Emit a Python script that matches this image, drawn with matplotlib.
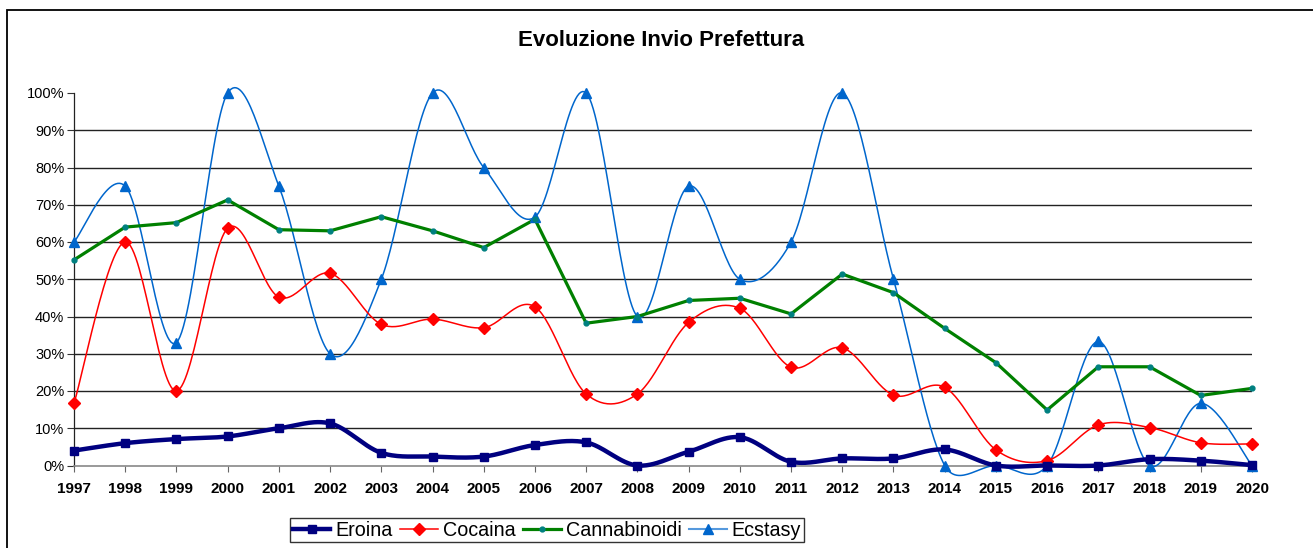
import matplotlib.pyplot as plt
import numpy as np
from matplotlib.lines import Line2D
from matplotlib.patches import Rectangle
from matplotlib.ticker import FuncFormatter

plt.rcParams['font.family'] = ['Liberation Sans', 'DejaVu Sans']

years = np.arange(1997, 2021)

eroina = [4.0, 6.0, 7.1, 7.8, 10.0, 11.3, 3.4, 2.4, 2.4, 5.5, 6.2, 0.0,
          3.7, 7.6, 1.0, 1.9, 1.9, 4.3, 0.0, 0.0, 0.0, 1.7, 1.3, 0.1]
cocaina = [16.7, 60.0, 20.0, 63.7, 45.2, 51.6, 37.9, 39.3, 37.0, 42.6, 19.2, 19.2,
           38.4, 42.2, 26.4, 31.6, 18.9, 21.0, 4.2, 1.3, 10.9, 10.2, 6.1, 5.8]
cannabinoidi = [55.2, 64.0, 65.2, 71.3, 63.3, 63.0, 66.8, 63.0, 58.5, 66.1, 38.2, 40.0,
                44.3, 44.9, 40.7, 51.4, 46.4, 36.8, 27.6, 14.9, 26.5, 26.5, 18.8, 20.7]
ecstasy = [60.0, 75.0, 33.0, 100.0, 75.0, 30.0, 50.0, 100.0, 80.0, 66.7, 100.0, 40.0,
           75.0, 50.0, 60.0, 100.0, 50.0, 0.0, 0.0, 0.0, 33.3, 0.0, 16.7, 0.0]

# pixel size of one year / of 100% on the axes, used so the smoothing works like the spreadsheet
PX_YEAR, PX_FULL = 51.26, 372.5


def smooth(x, y, n=30):
    # bezier "smoothed line": tension 1/6, control arms capped at half the segment
    x = np.asarray(x, float) * PX_YEAR
    y = np.asarray(y, float) / 100 * PX_FULL
    pts = np.column_stack([x, y])
    pts = np.vstack([pts[:1], pts, pts[-1:]])
    t = np.linspace(0, 1, n)[:, None]
    out = []
    for i in range(1, len(pts) - 2):
        p0, p1, p2, p3 = pts[i - 1], pts[i], pts[i + 1], pts[i + 2]
        d12 = np.hypot(*(p2 - p1))
        d02 = np.hypot(*(p2 - p0))
        d13 = np.hypot(*(p3 - p1))
        f1 = 1 / 6 if d02 / 6 < d12 / 2 else d12 / 2 / d02
        f2 = 1 / 6 if d13 / 6 < d12 / 2 else d12 / 2 / d13
        c1 = p1 + f1 * (p2 - p0)
        c2 = p2 - f2 * (p3 - p1)
        b = (1 - t) ** 3 * p1 + 3 * (1 - t) ** 2 * t * c1 + 3 * (1 - t) * t ** 2 * c2 + t ** 3 * p2
        out.append(b)
    b = np.vstack(out)
    return b[:, 0] / PX_YEAR, b[:, 1] / PX_FULL


fig = plt.figure(figsize=(13.13, 5.48), dpi=100)
ax = fig.add_axes([74 / 1313, 1 - 465.5 / 548, (1252 - 74) / 1313, (465.5 - 93) / 548])

for val in np.arange(0.1, 0.95, 0.1):
    ax.axhline(val, color='#222222', lw=1.0, zorder=1)

c_ero, c_coc, c_can, c_ecs = '#000080', '#FF0000', '#008000', '#0066CC'

sx, sy = smooth(years, ecstasy)
ax.plot(sx, sy, color=c_ecs, lw=1.1, zorder=3, clip_on=False)
ax.plot(years, np.array(ecstasy) / 100, ls='none', marker='^', ms=7, color=c_ecs, zorder=4, clip_on=False)

ax.plot(years, np.array(cannabinoidi) / 100, color=c_can, lw=2.3, zorder=3, clip_on=False)
ax.plot(years, np.array(cannabinoidi) / 100, ls='none', marker='o', ms=3.5, color='#008080', zorder=4, clip_on=False)

sx, sy = smooth(years, cocaina)
ax.plot(sx, sy, color=c_coc, lw=1.1, zorder=3, clip_on=False)
ax.plot(years, np.array(cocaina) / 100, ls='none', marker='D', ms=6.5, color=c_coc, zorder=4, clip_on=False)

sx, sy = smooth(years, eroina)
ax.plot(sx, sy, color=c_ero, lw=3.2, zorder=5, clip_on=False)
ax.plot(years, np.array(eroina) / 100, ls='none', marker='s', ms=6, color=c_ero, zorder=6, clip_on=False)

ax.set_xlim(1997, 2020)
ax.set_ylim(0, 1)
ax.set_xticks(years)
ax.set_xticklabels([str(y) for y in years], fontsize=11, fontweight='bold')
ax.set_yticks(np.arange(0, 1.01, 0.1))
ax.yaxis.set_major_formatter(FuncFormatter(lambda v, p: f'{v * 100:.0f}%'))
ax.tick_params(axis='y', labelsize=10.5, length=5, width=0.8, color='#333333', pad=2)
ax.tick_params(axis='x', length=4, width=0.8, color='#666666', pad=8)
for s in ['top', 'right']:
    ax.spines[s].set_visible(False)
ax.spines['left'].set_color('#222222')
ax.spines['left'].set_linewidth(0.9)
ax.spines['bottom'].set_color('#888888')
ax.spines['bottom'].set_linewidth(1.2)
ax.set_facecolor('none')

fig.text(661 / 1313, 1 - 40 / 548, 'Evoluzione Invio Prefettura', ha='center', va='center',
         fontsize=16, fontweight='bold')

handles = [
    Line2D([], [], color=c_ero, lw=3.2, marker='s', ms=6),
    Line2D([], [], color=c_coc, lw=1.1, marker='D', ms=6.5),
    Line2D([], [], color=c_can, lw=2.3, marker='o', ms=3.5, mfc='#008080', mec='#008080'),
    Line2D([], [], color='#5599DD', lw=1.5, marker='^', ms=7, mfc=c_ecs, mec=c_ecs),
]
leg = fig.legend(handles, ['Eroina', 'Cocaina', 'Cannabinoidi', 'Ecstasy'], ncol=4,
                 loc='center', bbox_to_anchor=(547 / 1313, 1 - 530 / 548), fontsize=14.2,
                 frameon=True, fancybox=False, handlelength=1.9, handletextpad=0.25,
                 columnspacing=0.4, borderpad=0.15, borderaxespad=0)
leg.get_frame().set_edgecolor('black')
leg.get_frame().set_linewidth(1)

fig.patches.append(Rectangle((7 / 1313, -0.05), 1.2, 1 - 10 / 548 + 0.05, transform=fig.transFigure,
                             fill=False, edgecolor='black', lw=1.3))

fig.savefig('out.png', dpi=100)
